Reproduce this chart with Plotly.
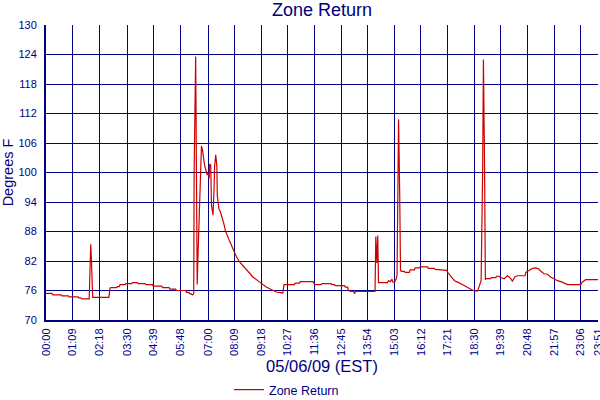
import plotly.graph_objects as go

# Sample times (minutes after midnight, 05/06/09 EST) and Zone Return temperature (deg F)
sample_minute = [
    0, 15, 18, 39, 41, 58, 60, 83, 85, 90, 93, 112, 114, 116, 118, 121, 163, 166, 170, 183,
    185, 190, 192, 205, 207, 222, 224, 237, 239, 257, 259, 276, 278, 300, 302, 319, 321, 336,
    338, 362, 364, 371, 373, 377, 379, 381, 383, 384, 388, 390, 392, 394, 398, 400, 403, 406,
    408, 411, 415, 418, 421, 423, 424, 427, 429, 433, 436, 437, 440, 443, 444, 448, 452, 456,
    461, 465, 469, 474, 479, 483, 487, 494, 502, 513, 524, 537, 554, 571, 584, 597, 614, 617,
    644, 646, 657, 659, 692, 697, 713, 715, 739, 741, 748, 750, 774, 776, 782, 784, 791, 798,
    800, 802, 853, 855, 858, 860, 862, 885, 888, 893, 897, 899, 903, 908, 910, 912, 914, 917,
    919, 921, 929, 931, 942, 944, 955, 957, 968, 970, 989, 991, 1007, 1009, 1026, 1028, 1039,
    1041, 1046, 1050, 1054, 1059, 1067, 1076, 1084, 1093, 1102, 1110, 1119, 1123, 1128, 1132,
    1134, 1137, 1139, 1141, 1153, 1155, 1166, 1168, 1175, 1177, 1188, 1196, 1202, 1209, 1216,
    1222, 1242, 1244, 1253, 1261, 1270, 1277, 1283, 1291, 1300, 1309, 1317, 1326, 1335, 1343,
    1352, 1386, 1390, 1399, 1431,
]
zone_return = [
    75.4, 75.4, 75.1, 75.1, 74.9, 74.9, 74.7, 74.7, 74.5, 74.5, 74.3, 74.3, 79.9, 85.4, 81.8,
    74.6, 74.6, 76.5, 76.6, 76.6, 76.8, 76.8, 77.2, 77.2, 77.4, 77.4, 77.6, 77.6, 77.4, 77.4,
    77.2, 77.2, 76.9, 76.9, 76.6, 76.6, 76.3, 76.3, 76.0, 76.0, 75.6, 75.6, 75.3, 75.3, 75.1,
    75.3, 75.3, 100.1, 123.6, 100.1, 77.2, 83.0, 92.7, 100.1, 105.4, 104.4, 102.9, 101.5,
    100.3, 99.5, 99.8, 98.8, 101.7, 101.5, 93.3, 91.3, 97.4, 101.2, 103.6, 101.2, 95.4, 92.7,
    92.0, 91.0, 89.6, 88.2, 87.2, 86.4, 85.5, 84.8, 83.8, 82.8, 81.8, 80.8, 79.7, 78.7, 77.7,
    76.7, 76.2, 75.7, 75.5, 77.2, 77.2, 77.5, 77.5, 77.8, 77.8, 77.2, 77.2, 77.4, 77.4, 77.2,
    77.2, 77.0, 77.0, 76.7, 76.7, 76.0, 75.8, 75.8, 75.3, 75.8, 75.8, 87.0, 81.6, 87.2, 77.6,
    77.6, 78.0, 77.8, 78.3, 77.7, 77.6, 78.4, 79.2, 95.2, 110.8, 95.2, 80.1, 79.9, 79.9, 79.7,
    79.7, 80.2, 80.2, 80.6, 80.6, 80.8, 80.8, 80.5, 80.5, 80.3, 80.2, 80.1, 80.1, 79.7, 79.2,
    78.7, 78.4, 78.0, 77.7, 77.4, 77.0, 76.6, 76.2, 75.9, 75.9, 76.7, 78.0, 100.6, 123.0,
    100.6, 78.2, 78.4, 78.4, 78.6, 78.6, 78.9, 78.9, 78.7, 78.4, 79.0, 78.7, 77.9, 78.8, 79.0,
    79.0, 79.7, 80.2, 80.5, 80.6, 80.4, 79.9, 79.4, 79.3, 78.7, 78.4, 78.0, 77.8, 77.5, 77.2,
    77.2, 77.7, 78.2, 78.2,
]

x_tick_labels = [
    "00:00", "01:09", "02:18", "03:30", "04:39", "05:48", "07:00", "08:09", "09:18", "10:27",
    "11:36", "12:45", "13:54", "15:03", "16:12", "17:21", "18:30", "19:39", "20:48", "21:57",
    "23:06", "23:51",
]
y_tick_values = [70, 76, 82, 88, 94, 100, 106, 112, 118, 124, 130]

x_tick_minutes = [int(t[:2]) * 60 + int(t[3:]) for t in x_tick_labels]

NAVY = "#000080"
RED = "#CC0000"
FONT = "Liberation Sans"

fig = go.Figure()
fig.add_trace(go.Scatter(
    x=sample_minute, y=zone_return, mode="lines", name="Zone Return",
    line=dict(color=RED, width=1.2),
))

fig.update_layout(
    width=600, height=400,
    margin=dict(l=46, r=2, t=25, b=80),
    paper_bgcolor="white", plot_bgcolor="white",
    font=dict(family=FONT, color=NAVY),
    title=dict(text="Zone Return", font=dict(size=18, color=NAVY, family=FONT),
               x=0.5, xref="paper", xanchor="center",
               y=1 - 10 / 400, yref="container", yanchor="middle"),
    showlegend=True,
    legend=dict(orientation="h", xref="container", yref="container",
                x=229 / 600, xanchor="left", y=1 - 390 / 400, yanchor="middle",
                font=dict(size=12.5, color=NAVY, family=FONT),
                bgcolor="rgba(0,0,0,0)"),
    xaxis=dict(
        range=[0, 1431], tickmode="array", tickvals=x_tick_minutes, ticktext=x_tick_labels,
        tickangle=-90, tickfont=dict(size=11, color=NAVY, family=FONT),
        ticklabeloverflow="allow",
        showgrid=True, gridcolor=NAVY, gridwidth=1,
        showline=True, linecolor=NAVY, linewidth=2, zeroline=False,
        ticks="", ticklabelstandoff=2,
        title=dict(text="05/06/09 (EST)", font=dict(size=16.5, color=NAVY, family=FONT),
                   standoff=8),
        automargin=False,
    ),
    yaxis=dict(
        range=[70, 130], tickmode="array", tickvals=y_tick_values,
        tickfont=dict(size=11, color=NAVY, family=FONT),
        showgrid=True, gridcolor=NAVY, gridwidth=1,
        showline=True, linecolor=NAVY, linewidth=2, zeroline=False,
        ticks="", ticklabelstandoff=5,
        title=dict(text="Degrees F", font=dict(size=14.5, color=NAVY, family=FONT),
                   standoff=6),
        automargin=False,
    ),
)

fig.write_html(
    "out.html",
    config={"displayModeBar": False},
    post_script="document.body.style.margin='0';document.body.style.padding='0';",
)
